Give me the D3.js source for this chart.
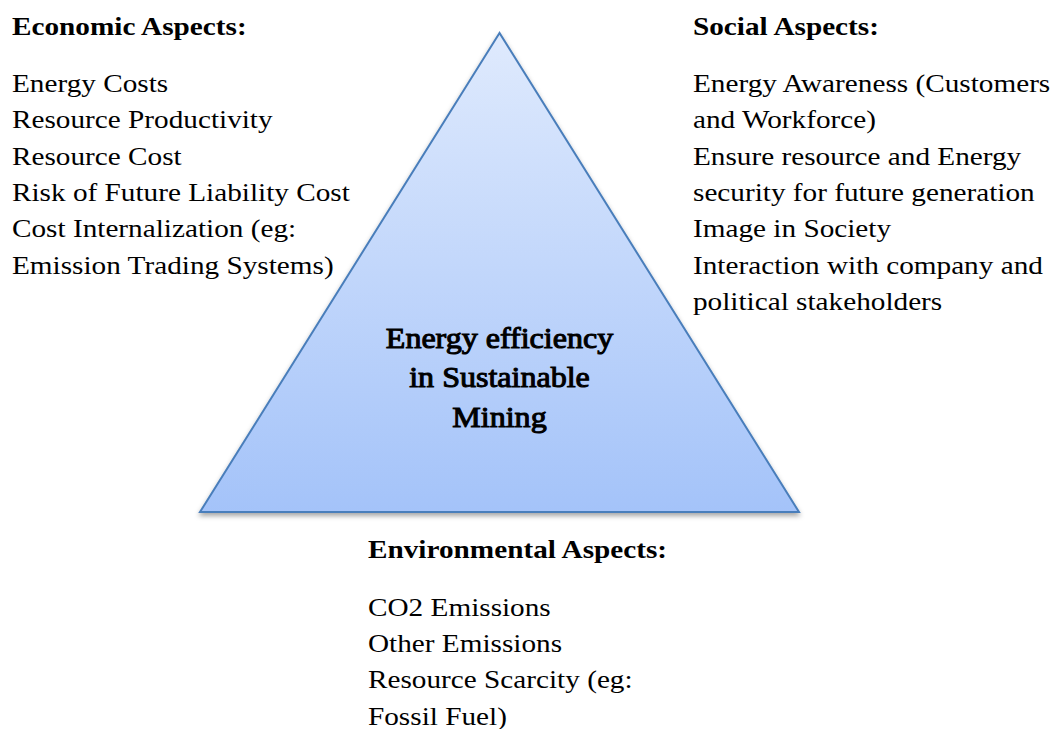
<!DOCTYPE html>
<html>
<head>
<meta charset="utf-8">
<script src="https://cdn.jsdelivr.net/npm/d3@7"></script>
<style>
  body { margin: 0; background: #fff; }
  svg { display: block; }
</style>
</head>
<body>
<svg id="chart"></svg>
<script>
// diagram content
const economicTitle = "Economic Aspects:";
const economicItems = [
  "Energy Costs",
  "Resource Productivity",
  "Resource Cost",
  "Risk of Future Liability Cost",
  "Cost Internalization (eg:",
  "Emission Trading Systems)"
];
const socialTitle = "Social Aspects:";
const socialItems = [
  "Energy Awareness (Customers",
  "and Workforce)",
  "Ensure resource and Energy",
  "security for future generation",
  "Image in Society",
  "Interaction with company and",
  "political stakeholders"
];
const environmentalTitle = "Environmental Aspects:";
const environmentalItems = [
  "CO2 Emissions",
  "Other Emissions",
  "Resource Scarcity (eg:",
  "Fossil Fuel)"
];
const centerLines = ["Energy efficiency", "in Sustainable", "Mining"];

const width = 1059, height = 729;
const svg = d3.select("#chart").attr("width", width).attr("height", height);

// triangle in unit coords
const x = d3.scaleLinear().domain([0, 1]).range([200, 799]);
const y = d3.scaleLinear().domain([0, 1]).range([33, 512]);
const corners = [[0.5, 0], [0, 1], [1, 1]];

const defs = svg.append("defs");
const grad = defs.append("linearGradient")
  .attr("id", "fillGrad")
  .attr("x1", 0).attr("y1", 0).attr("x2", 0).attr("y2", 1);
grad.append("stop").attr("offset", "0%").attr("stop-color", "#dfeafd");
grad.append("stop").attr("offset", "100%").attr("stop-color", "#a4c3f9");

const shadow = defs.append("filter").attr("id", "shadow")
  .attr("x", "-10%").attr("y", "-10%").attr("width", "120%").attr("height", "125%");
shadow.append("feDropShadow")
  .attr("dx", 0).attr("dy", 3).attr("stdDeviation", 2.5)
  .attr("flood-color", "#000").attr("flood-opacity", 0.35);

const line = d3.line().x(d => x(d[0])).y(d => y(d[1])).curve(d3.curveLinearClosed);

svg.append("path")
  .attr("d", line(corners))
  .attr("fill", "url(#fillGrad)")
  .attr("stroke", "#4a7ebb")
  .attr("stroke-width", 2)
  .attr("stroke-linejoin", "miter")
  .attr("filter", "url(#shadow)");

const font = "Liberation Serif";
const step = 36.4;
const sx = 1.125; // the source picture is stretched sideways

function block(title, items, left, titleBase, firstBase) {
  const g = svg.append("g");
  g.append("text")
    .attr("transform", `translate(${left},${titleBase}) scale(${sx},1)`)
    .style("font-family", font)
    .style("font-size", "26px")
    .style("font-weight", "bold")
    .text(title);
  g.selectAll("text.item")
    .data(items)
    .enter()
    .append("text")
    .attr("class", "item")
    .attr("transform", (d, i) => `translate(${left},${firstBase + i * step}) scale(${sx},1)`)
    .style("font-family", font)
    .style("font-size", "26px")
    .text(d => d);
}

block(economicTitle, economicItems, 12, 34.5, 91.7);
block(socialTitle, socialItems, 693, 34.5, 91.7);
block(environmentalTitle, environmentalItems, 368, 558, 615.5);

svg.append("g")
  .selectAll("text")
  .data(centerLines)
  .enter()
  .append("text")
  .attr("transform", (d, i) => `translate(${x(0.5)},${347.5 + i * 39.5}) scale(1.105,1)`)
  .attr("text-anchor", "middle")
  .style("font-family", font)
  .style("font-size", "29px")
  .attr("fill", "#000")
  .attr("stroke", "#000")
  .attr("stroke-width", 1)
  .text(d => d);
</script>
</body>
</html>
